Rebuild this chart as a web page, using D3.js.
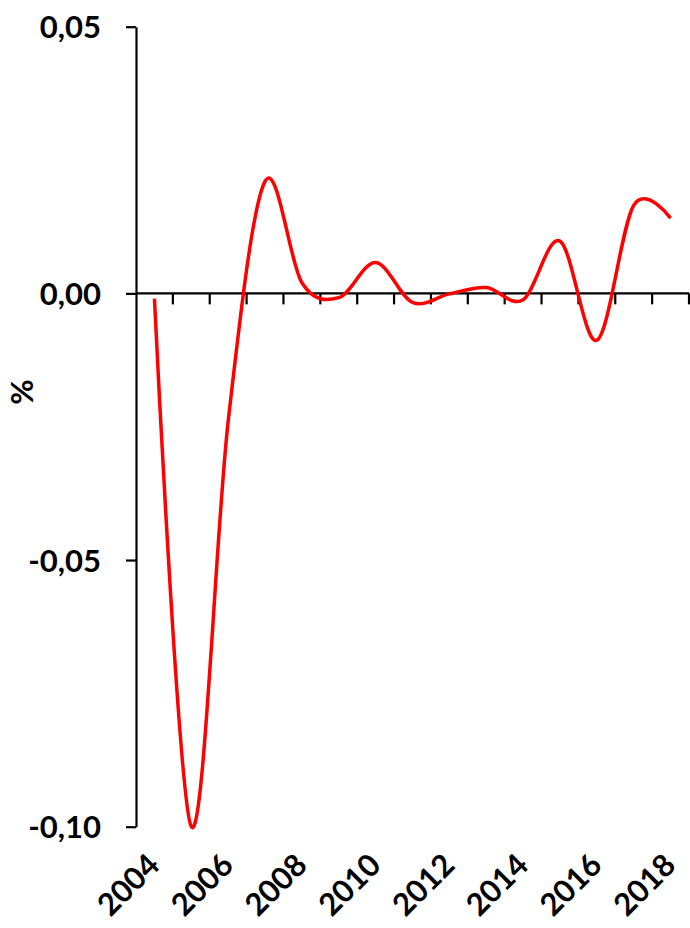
<!DOCTYPE html>
<html><head><meta charset="utf-8">
<script src="https://cdn.jsdelivr.net/npm/d3@7"></script>
<style>body{margin:0;background:#fff}text{font-family:Lato,"Open Sans",sans-serif;font-weight:bold;fill:#000}</style>
</head><body>
<svg id="c" width="690" height="928"></svg>
<script>
const years = [2004,2005,2006,2007,2008,2009,2010,2011,2012,2013,2014,2015,2016,2017,2018];
const values = [-0.001,-0.100,-0.024,0.021,0.002,-0.0008,0.0058,-0.0017,-0.0001,0.0011,-0.0012,0.0098,-0.0088,0.0165,0.0141];
const yTicks = [0.05,0.00,-0.05,-0.10];
const xLabelYears = [2004,2006,2008,2010,2012,2014,2016,2018];

const svg = d3.select("#c");
const x = d3.scaleBand().domain(years).range([136,689]);
const y = d3.scaleLinear().domain([-0.10,0.05]).range([826.7,26.7]);
const fmt = v => d3.format(".2f")(v).replace(".",",").replace("−","-");

// y axis
const ya = svg.append("g").attr("transform","translate(136,0)")
  .call(d3.axisLeft(y).tickValues(yTicks).tickSize(10).tickSizeOuter(0).tickFormat(fmt));
ya.select(".domain").attr("stroke","#000").attr("stroke-width",2.2);
ya.selectAll(".tick line").attr("stroke","#000").attr("stroke-width",2.2);
ya.selectAll(".tick text").attr("x",-35).attr("font-size",31).attr("dy","0.36em");

// x axis at zero
const xa = svg.append("g").attr("transform",`translate(0,${y(0)})`);
xa.append("line").attr("x1",136).attr("x2",689).attr("stroke","#000").attr("stroke-width",2.2);
xa.selectAll("line.t").data(years).enter().append("line").attr("class","t")
  .attr("x1",d=>x(d)+x.bandwidth()).attr("x2",d=>x(d)+x.bandwidth())
  .attr("y1",0).attr("y2",11).attr("stroke","#000").attr("stroke-width",2.2);

// x labels
svg.append("g").selectAll("text").data(xLabelYears).enter().append("text")
  .attr("text-anchor","end").attr("font-size",31)
  .attr("transform",d=>`translate(${x(d)+x.bandwidth()/2+7},${867}) rotate(-45)`)
  .text(d=>d);

// y label
svg.append("text").attr("transform","translate(33,392) rotate(-90)")
  .attr("text-anchor","middle").attr("font-size",31).text("%");

// line
const line = d3.line().x((d,i)=>x(years[i])+x.bandwidth()/2).y(d=>y(d)).curve(d3.curveCardinal.tension(0));
svg.append("path").datum(values).attr("d",line).attr("fill","none").attr("stroke","#ff0000").attr("stroke-width",3.5);
</script>
</body></html>
